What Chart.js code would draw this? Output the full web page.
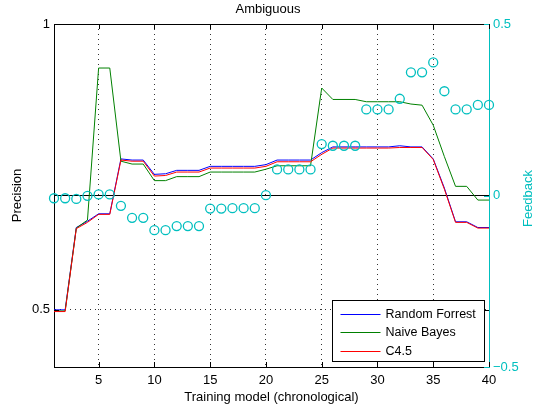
<!DOCTYPE html>
<html><head><meta charset="utf-8">
<script src="https://cdn.jsdelivr.net/npm/chart.js@4"></script>
<style>html,body{margin:0;padding:0;background:#fff}#wrap{width:536px;height:408px}</style>
</head><body><div id="wrap"><canvas id="c" width="536" height="408"></canvas></div>
<script>
const models = [1,2,3,4,5,6,7,8,9,10,11,12,13,14,15,16,17,18,19,20,21,22,23,24,25,26,27,28,29,30,31,32,33,34,35,36,37,38,39,40];
const randomForrest = [0.500,0.500,0.644,0.655,0.668,0.668,0.764,0.762,0.762,0.737,0.738,0.744,0.744,0.744,0.751,0.751,0.751,0.751,0.751,0.754,0.762,0.762,0.762,0.762,0.775,0.785,0.785,0.785,0.785,0.785,0.785,0.787,0.785,0.785,0.764,0.713,0.654,0.654,0.644,0.644];
const naiveBayes = [0.498,0.498,0.643,0.657,0.923,0.923,0.760,0.755,0.755,0.726,0.726,0.733,0.733,0.733,0.741,0.741,0.741,0.741,0.741,0.746,0.752,0.752,0.752,0.752,0.888,0.868,0.868,0.868,0.864,0.864,0.864,0.864,0.860,0.858,0.823,0.768,0.716,0.716,0.692,0.692];
const c45 = [0.497,0.497,0.642,0.653,0.667,0.667,0.762,0.760,0.760,0.734,0.735,0.741,0.741,0.741,0.748,0.748,0.748,0.748,0.748,0.751,0.759,0.759,0.759,0.759,0.772,0.783,0.783,0.783,0.783,0.783,0.783,0.784,0.784,0.784,0.763,0.711,0.653,0.653,0.643,0.643];
const feedback = [-0.008,-0.008,-0.010,-0.001,0.003,0.003,-0.030,-0.065,-0.065,-0.101,-0.101,-0.089,-0.089,-0.089,-0.038,-0.038,-0.037,-0.037,-0.037,0.001,0.076,0.076,0.076,0.076,0.150,0.145,0.145,0.145,0.251,0.251,0.251,0.282,0.359,0.359,0.388,0.304,0.251,0.251,0.264,0.264];
const xTicks = [5,10,15,20,25,30,35,40];
const precisionTicks = [0.5,1];
const feedbackTicks = [-0.5,0,0.5];
const seriesLabels = ['Random Forrest','Naive Bayes','C4.5'];
const feedbackTitle = 'Feedback';

const CYAN = '#00bfbf';
const COLORS = ['#0000ff','#008000','#ff0000'];
const FONT = 'Liberation Sans, Arial, Helvetica, sans-serif';
const toXY = ys => ys.map((y,i) => ({x: models[i], y}));
const fmt = v => v < 0 ? '\u2212' + Math.abs(v) : String(v);

const framePlugin = {
  id: 'frame',
  afterDraw(chart) {
    const {ctx, chartArea: a, scales} = chart;
    ctx.save();
    ctx.lineWidth = 1;
    // top border
    ctx.strokeStyle = '#000';
    ctx.beginPath(); ctx.moveTo(a.left, a.top + 0.5); ctx.lineTo(a.right, a.top + 0.5); ctx.stroke();
    const tl = 5;
    scales.x.ticks.forEach(t => {
      const px = Math.round(scales.x.getPixelForValue(t.value)) + 0.5;
      ctx.beginPath();
      ctx.moveTo(px, a.bottom); ctx.lineTo(px, a.bottom - tl);
      ctx.moveTo(px, a.top); ctx.lineTo(px, a.top + tl);
      ctx.stroke();
    });
    scales.y.ticks.forEach(t => {
      const py = Math.round(scales.y.getPixelForValue(t.value)) + 0.5;
      ctx.beginPath();
      ctx.moveTo(a.left, py); ctx.lineTo(a.left + tl, py);
      ctx.moveTo(a.right, py); ctx.lineTo(a.right - tl, py);
      ctx.stroke();
    });
    ctx.strokeStyle = CYAN;
    scales.y1.ticks.forEach(t => {
      const py = Math.round(scales.y1.getPixelForValue(t.value)) + 0.5;
      ctx.beginPath();
      ctx.moveTo(a.right, py); ctx.lineTo(a.right - tl, py);
      ctx.stroke();
    });
    // right axis title, reading bottom to top
    ctx.save();
    ctx.translate(scales.y1.right - 8, (a.top + a.bottom) / 2 + 3);
    ctx.rotate(-Math.PI / 2);
    ctx.fillStyle = CYAN;
    ctx.font = '13px ' + FONT;
    ctx.textAlign = 'center';
    ctx.textBaseline = 'middle';
    ctx.fillText(feedbackTitle, 0, 0);
    ctx.restore();
    // legend
    const bw = 152, bh = 61;
    const bx = Math.round(a.right - 5 - bw) + 0.5, by = Math.round(a.bottom - 6 - bh) + 0.5;
    ctx.fillStyle = '#fff';
    ctx.fillRect(bx, by, bw, bh);
    ctx.strokeStyle = '#000';
    ctx.strokeRect(bx, by, bw, bh);
    ctx.font = '12.5px ' + FONT;
    ctx.textBaseline = 'middle';
    ctx.textAlign = 'left';
    seriesLabels.forEach((lab, i) => {
      const ry = Math.round(by + 13 + i * 18.5) + 0.5;
      ctx.strokeStyle = COLORS[i];
      ctx.beginPath(); ctx.moveTo(bx + 8, ry); ctx.lineTo(bx + 48, ry); ctx.stroke();
      ctx.fillStyle = '#000';
      ctx.fillText(lab, bx + 53, ry);
    });
    ctx.restore();
  }
};

new Chart(document.getElementById('c'), {
  type: 'line',
  data: { datasets: [
    {label: seriesLabels[2], data: toXY(c45), yAxisID: 'y', borderColor: COLORS[2], borderWidth: 1, pointRadius: 0, tension: 0, order: 1},
    {label: seriesLabels[1], data: toXY(naiveBayes), yAxisID: 'y', borderColor: COLORS[1], borderWidth: 1, pointRadius: 0, tension: 0, order: 2},
    {label: seriesLabels[0], data: toXY(randomForrest), yAxisID: 'y', borderColor: COLORS[0], borderWidth: 1, pointRadius: 0, tension: 0, order: 3},
    {label: 'zero', data: [{x: models[0], y: 0}, {x: models[models.length-1], y: 0}], yAxisID: 'y1', borderColor: '#000', borderWidth: 1, pointRadius: 0, order: 4},
    {label: 'Feedback', data: toXY(feedback), yAxisID: 'y1', showLine: false, pointRadius: 4.5, pointHoverRadius: 4.5, pointBorderColor: CYAN, pointBackgroundColor: 'rgba(0,0,0,0)', pointBorderWidth: 1.3, borderColor: CYAN, clip: false, order: 0}
  ]},
  options: {
    responsive: false,
    animation: false,
    devicePixelRatio: 1,
    layout: {padding: 0},
    plugins: {
      legend: {display: false},
      tooltip: {enabled: false},
      title: {display: true, text: 'Ambiguous', color: '#000', font: {family: FONT, size: 13, weight: 'normal'}, padding: {top: 2, bottom: 6.4}}
    },
    scales: {
      x: {
        type: 'linear', min: 1, max: 40,
        afterBuildTicks: s => { s.ticks = xTicks.map(v => ({value: v})); },
        afterFit: s => { s.height = 41; },
        grid: {drawTicks: false, lineWidth: 1, color: c => (c.tick && c.tick.value === 40) ? 'rgba(0,0,0,0)' : 'rgba(0,0,0,0.8)'},
        border: {display: true, color: '#000', width: 1, dash: [1, 4]},
        ticks: {color: '#000', padding: 6, font: {family: FONT, size: 13}, callback: v => fmt(v), maxRotation: 0, autoSkip: false},
        title: {display: true, text: 'Training model (chronological)', color: '#000', font: {family: FONT, size: 13}, padding: {top: 0, bottom: 3.2}}
      },
      y: {
        type: 'linear', position: 'left', min: 0.4, max: 1,
        afterBuildTicks: s => { s.ticks = precisionTicks.map(v => ({value: v})); },
        afterFit: s => { s.width = 54; },
        grid: {drawTicks: false, lineWidth: 1, color: 'rgba(0,0,0,0.8)'},
        border: {display: true, color: '#000', width: 1, dash: [1, 4]},
        ticks: {color: '#000', padding: 4, font: {family: FONT, size: 13}, callback: v => fmt(v)},
        title: {display: true, text: 'Precision', color: '#000', font: {family: FONT, size: 13}, padding: {top: 10, bottom: 0}}
      },
      y1: {
        type: 'linear', position: 'right', min: -0.5, max: 0.5,
        afterBuildTicks: s => { s.ticks = feedbackTicks.map(v => ({value: v})); },
        afterFit: s => { s.width = 47; },
        grid: {display: true, drawOnChartArea: false, drawTicks: false},
        border: {display: true, color: CYAN, width: 1},
        ticks: {color: CYAN, padding: 4, font: {family: FONT, size: 13}, callback: v => fmt(v)},
        title: {display: false}
      }
    }
  },
  plugins: [framePlugin]
});
</script>
</body></html>
